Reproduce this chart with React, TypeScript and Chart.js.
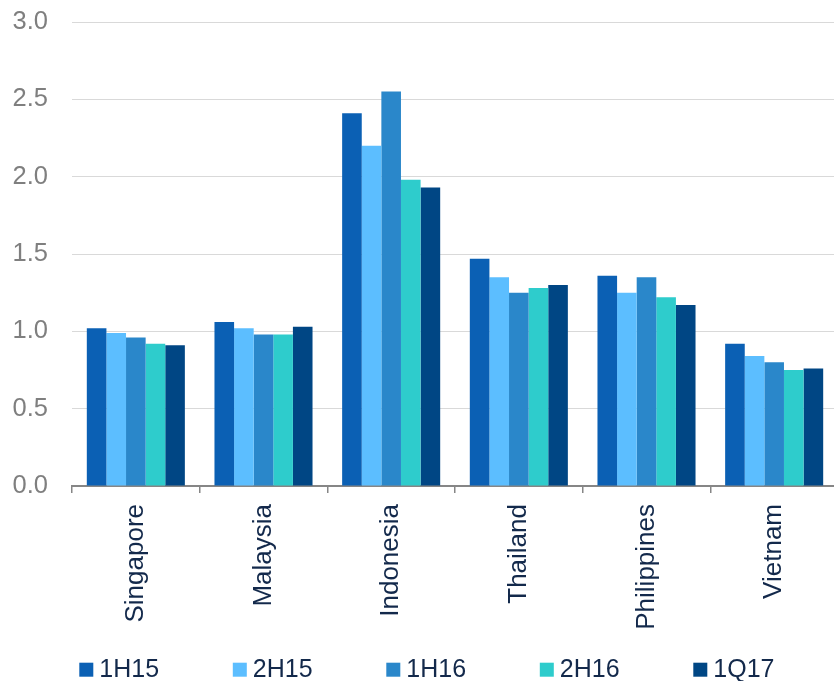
import React, { useEffect, useRef } from 'react';
import { Chart, registerables } from 'chart.js';

Chart.register(...registerables);

const categories = ['Singapore', 'Malaysia', 'Indonesia', 'Thailand', 'Philippines', 'Vietnam'];
const seriesNames = ['1H15', '2H15', '1H16', '2H16', '1Q17'];
const values1H15 = [1.02, 1.06, 2.41, 1.47, 1.36, 0.92];
const values2H15 = [0.99, 1.02, 2.2, 1.35, 1.25, 0.84];
const values1H16 = [0.96, 0.98, 2.55, 1.25, 1.35, 0.8];
const values2H16 = [0.92, 0.98, 1.98, 1.28, 1.22, 0.75];
const values1Q17 = [0.91, 1.03, 1.93, 1.3, 1.17, 0.76];
const seriesValues = [values1H15, values2H15, values1H16, values2H16, values1Q17];
const seriesColors = ['#0b60b4', '#5cbeff', '#2a87ca', '#2ecccc', '#004684'];

const FONT = '"Liberation Sans", Arial, sans-serif';

const legendPlugin = {
  id: 'customLegend',
  afterDraw(chart: any) {
    const ctx = chart.ctx;
    ctx.save();
    ctx.font = `25px ${FONT}`;
    ctx.textBaseline = 'middle';
    ctx.textAlign = 'left';
    chart.data.datasets.forEach((ds: any, i: number) => {
      const x = 79.3 + i * 153.5;
      ctx.fillStyle = ds.backgroundColor;
      ctx.fillRect(x, 662.7, 14, 14);
      ctx.fillStyle = '#13294b';
      ctx.fillText(ds.label, x + 20, 670.5);
    });
    ctx.restore();
  },
};

export default function App() {
  const canvasRef = useRef<HTMLCanvasElement | null>(null);

  useEffect(() => {
    if (!canvasRef.current) return;
    const chart = new Chart(canvasRef.current, {
      type: 'bar',
      data: {
        labels: categories,
        datasets: seriesNames.map((name, i) => ({
          label: name,
          data: seriesValues[i],
          backgroundColor: seriesColors[i],
          borderWidth: 0,
          categoryPercentage: 0.768,
          barPercentage: 1,
        })),
      },
      options: {
        animation: false,
        responsive: true,
        maintainAspectRatio: false,
        layout: { autoPadding: false, padding: { top: 22, left: 0, right: 0, bottom: 0 } },
        plugins: {
          legend: { display: false },
          tooltip: { enabled: false },
        },
        scales: {
          x: {
            grid: {
              display: true,
              drawOnChartArea: false,
              drawTicks: true,
              tickLength: 7,
              color: '#868686',
              lineWidth: 1.5,
              offset: true,
            },
            border: { display: true, color: '#868686', width: 2 },
            ticks: {
              autoSkip: false,
              maxRotation: 90,
              minRotation: 90,
              padding: 11,
              color: '#13294b',
              font: { family: FONT, size: 26 },
            },
            afterFit: (scale: any) => {
              scale.height = 195;
              scale.paddingLeft = 0;
              scale.paddingRight = 0;
            },
          },
          y: {
            min: 0,
            max: 3,
            border: { display: false },
            grid: { color: '#d9d9d9', lineWidth: 1, drawTicks: false },
            ticks: {
              stepSize: 0.5,
              padding: 24,
              color: '#7f7f7f',
              font: { family: FONT, size: 25.5 },
              callback: (v: any) => Number(v).toFixed(1),
            },
            afterFit: (scale: any) => {
              scale.width = 72;
              scale.paddingTop = 0;
              scale.paddingBottom = 0;
            },
          },
        },
      },
      plugins: [legendPlugin],
    });
    return () => chart.destroy();
  }, []);

  return (
    <div
      style={{
        position: 'fixed',
        left: 0,
        top: 0,
        width: 834,
        height: 681,
        overflow: 'hidden',
        background: '#ffffff',
      }}
    >
      <div style={{ position: 'relative', width: 838, height: 681 }}>
        <canvas ref={canvasRef} />
      </div>
    </div>
  );
}
